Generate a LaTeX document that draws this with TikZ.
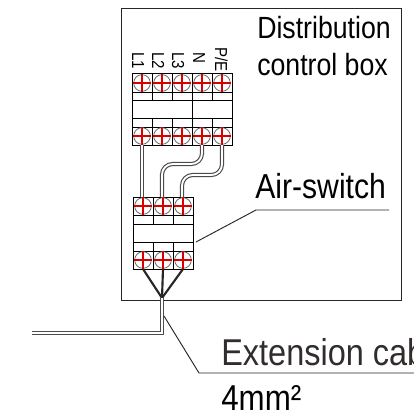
\documentclass[tikz,border=0pt]{standalone}
\usepackage{fontspec}
\setmainfont[FakeStretch=0.87]{Liberation Sans}
\definecolor{labelgrey}{RGB}{50,45,45}
\tikzset{
    boxline/.style={draw=black!85,line width=0.7pt},
    cellline/.style={draw=black,line width=0.7pt},
    wire/.style={draw=black!70,line width=0.85pt,double=white,double distance=1.4pt,rounded corners=8pt},
    lead/.style={draw=black!85,line width=1.6pt},
    leader/.style={draw=black!85,line width=0.7pt},
    screw/.style={circle,draw=black!60,line width=0.6pt,fill=white,minimum size=12.5pt,inner sep=0pt},
    cross/.style={draw=red!85!black,line width=1.8pt},
    termlabel/.style={rotate=-90,font=\fontsize{13}{15}\selectfont,anchor=base west,inner sep=0pt}
}
\begin{document}
\begin{tikzpicture}[x=0.75pt,y=-0.75pt]
    \useasboundingbox (0,0) rectangle (414,412);
    % control box
    \draw[boxline] (121,8) rectangle (401,300);
    % upper breaker
    \draw[cellline] (132,73) rectangle (232,145);
    \foreach \y in {92,100,118,127}
        \draw[cellline] (132,\y) -- (232,\y);
    \foreach \x in {152,172,192,212} {
        \draw[cellline] (\x,73) -- (\x,100);
        \draw[cellline] (\x,118) -- (\x,145);
    }
    \draw[cellline] (192,100) -- (192,118);
    % lower breaker
    \draw[cellline] (133,197) rectangle (193,269);
    \foreach \y in {215,224,242,251}
        \draw[cellline] (133,\y) -- (193,\y);
    \foreach \x in {153,173} {
        \draw[cellline] (\x,197) -- (\x,224);
        \draw[cellline] (\x,242) -- (\x,269);
    }
    % screws
    \foreach \x/\n in {142/a,162/b,182/c,202/d,222/e} {
        \node[screw] (top\n) at (\x,83) {};
        \node[screw] (mid\n) at (\x,136) {};
        \draw[cross] (top\n.north) -- (top\n.south);
        \draw[cross] (top\n.west) -- (top\n.east);
        \draw[cross] (mid\n.north) -- (mid\n.south);
        \draw[cross] (mid\n.west) -- (mid\n.east);
    }
    \foreach \x/\n in {143/a,163/b,183/c} {
        \node[screw] (in\n) at (\x,206) {};
        \node[screw] (out\n) at (\x,260) {};
        \draw[cross] (in\n.north) -- (in\n.south);
        \draw[cross] (in\n.west) -- (in\n.east);
        \draw[cross] (out\n.north) -- (out\n.south);
        \draw[cross] (out\n.west) -- (out\n.east);
    }
    % terminal labels
    \node[termlabel] (lone) at (132,52) {L1};
    \node[termlabel] (ltwo) at (152,52) {L2};
    \node[termlabel] (lthree) at (172,52) {L3};
    \node[termlabel] (lnull) at (193,52) {N};
    \node[termlabel] (lpe) at (215,47) {P/E};
    % wires between the breakers
    \coordinate (topL) at (142,145);
    \coordinate (botL) at (142,197);
    \coordinate (topN) at (202,145);
    \coordinate (botN) at (162,197);
    \coordinate (topE) at (222,145);
    \coordinate (botE) at (182,197);
    \draw[wire] (topL) -- (botL);
    \draw[wire] (topN) -- (202,164) -- (162,164) -- (botN);
    \draw[wire] (topE) -- (222,175) -- (182,175) -- (botE);
    % leads into the cable
    \coordinate (joint) at (162,298);
    \coordinate (cableend) at (32,333);
    \draw[lead] (143,269) -- (joint);
    \draw[lead] (163,269) -- (joint);
    \draw[lead] (183,269) -- (joint);
    \draw[wire,rounded corners=0pt] (joint) -- (162,333) -- (cableend);
    % texts
    \node[anchor=base west,inner sep=0pt,font=\fontsize{23}{23}\selectfont] (boxname) at (257,38) {Distribution};
    \node[anchor=base west,inner sep=0pt,font=\fontsize{23}{23}\selectfont] (boxnametwo) at (257,75) {control box};
    \node[anchor=base west,inner sep=0pt,font=\fontsize{26}{26}\selectfont] (switchname) at (255,198) {Air-switch};
    \node[anchor=base west,inner sep=0pt,text=labelgrey,font=\fontsize{28}{28}\selectfont] (cablename) at (221,365) {Extension cab};
    \node[anchor=base west,inner sep=0pt,font=\fontsize{27}{27}\selectfont] (cablesize) at (221,410) {4mm²};
    % leaders
    \draw[leader] (196,242) -- (256,210) -- (389,210);
    \draw[leader] (164,316) -- (199,373) -- (414,373);
\end{tikzpicture}
\end{document}
